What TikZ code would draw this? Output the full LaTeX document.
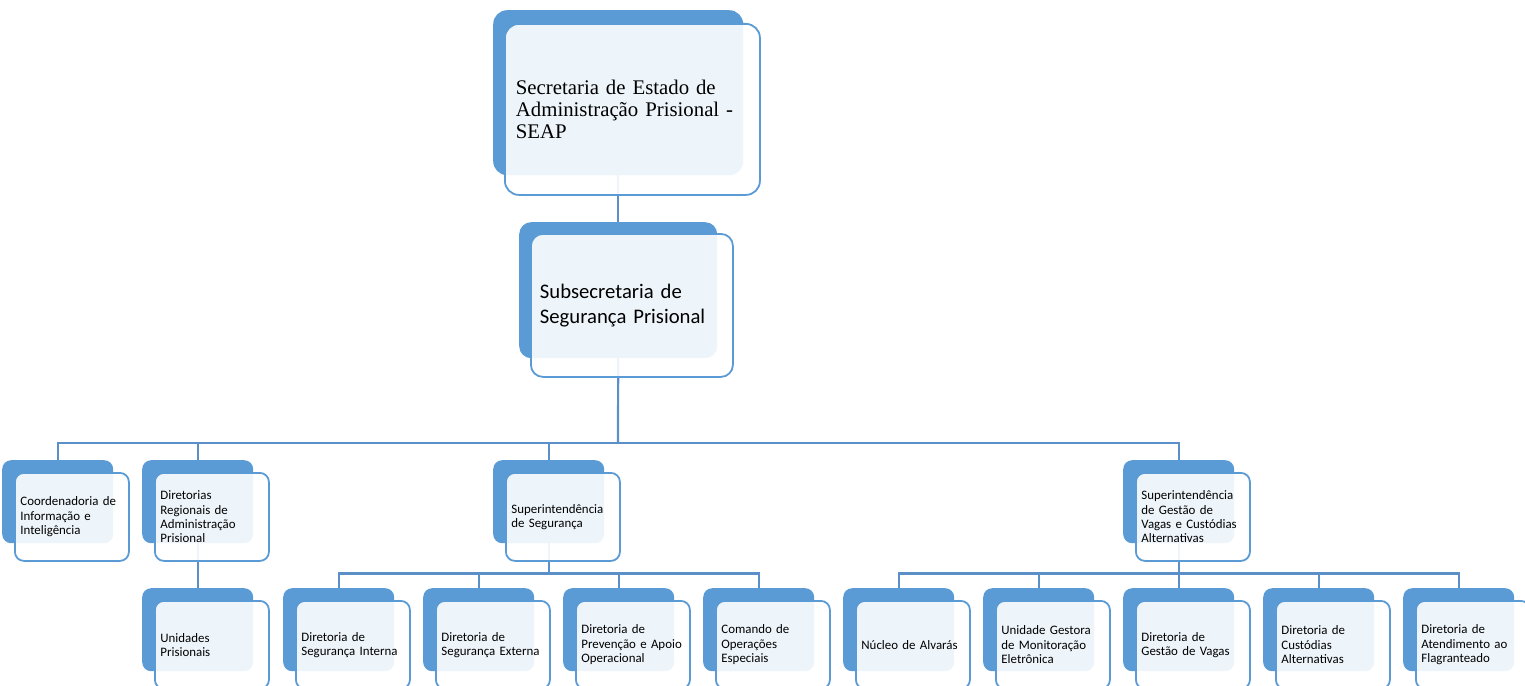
\documentclass[tikz,border=0pt]{standalone}
\usepackage{fontspec}
\setmainfont{Carlito}
\newfontfamily\seapserif{Liberation Serif}
\definecolor{acc}{HTML}{5B9BD5}
\definecolor{connc}{HTML}{5A8FC8}
\pgfdeclarelayer{bg}
\pgfsetlayers{bg,main}
\newcommand{\smallunit}[4]{%
  \node[backbox, minimum width=111pt, minimum height=83pt] (#1) at (#2,#3) {};
  \node[frontbox, text width=103pt, inner xsep=5.5pt, minimum height=88pt] (#1f) at (#2+12,#3+12) {#4};
}
\begin{document}
\begin{tikzpicture}[x=1pt,y=-1pt,
  backbox/.style={draw=none, fill=acc, rounded corners=9pt, anchor=north west, inner sep=0pt},
  frontbox/.style={draw=acc, line width=1.8pt, fill=white, fill opacity=0.9, text opacity=1,
    rounded corners=9pt, anchor=north west, align=left, inner ysep=0pt,
    font=\fontsize{12.9}{14.4}\selectfont},
  connline/.style={draw=connc, line width=2.2pt}
]
\useasboundingbox (0,0) rectangle (1525,685);

% top
\node[backbox, rounded corners=14pt, minimum width=250pt, minimum height=165pt] (top) at (493,10) {};
\node[frontbox, rounded corners=14pt, text width=233pt, inner xsep=11pt, minimum height=171pt,
  font=\seapserif\fontsize{20.8}{22.2}\selectfont] (topf) at (504,23)
  {Secretaria de Estado de\\Administração Prisional -\\SEAP};

% second
\node[backbox, rounded corners=12pt, minimum width=198pt, minimum height=136pt] (sub) at (519,222) {};
\node[frontbox, rounded corners=12pt, text width=184pt, inner xsep=9pt, minimum height=143pt,
  font=\fontsize{20.7}{24.5}\selectfont] (subf) at (530,233)
  {Subsecretaria de\\Segurança Prisional};

% level 3
\smallunit{coord}{2}{460}{Coordenadoria de\\Informação e\\Inteligência}
\smallunit{dreg}{142}{460}{Diretorias\\Regionais de\\Administração\\Prisional}
\smallunit{sseg}{493}{460}{Superintendência\\de Segurança}
\smallunit{gest}{1123}{460}{Superintendência\\de Gestão de\\Vagas e Custódias\\Alternativas}

% level 4
\smallunit{unid}{142}{588}{Unidades\\Prisionais}
\smallunit{dsi}{283}{588}{Diretoria de\\Segurança Interna}
\smallunit{dse}{423}{588}{Diretoria de\\Segurança Externa}
\smallunit{dpa}{563}{588}{Diretoria de\\Prevenção e Apoio\\Operacional}
\smallunit{coe}{703}{588}{Comando de\\Operações\\Especiais}
\smallunit{nal}{843}{588}{Núcleo de Alvarás}
\smallunit{ugm}{983}{588}{Unidade Gestora\\de Monitoração\\Eletrônica}
\smallunit{dgv}{1123}{588}{Diretoria de\\Gestão de Vagas}
\smallunit{dca}{1263}{588}{Diretoria de\\Custódias\\Alternativas}
\smallunit{daf}{1403}{588}{Diretoria de\\Atendimento ao\\Flagranteado}

\begin{pgfonlayer}{bg}
\coordinate (busA) at (618,443);
\coordinate (busB) at ([yshift=-30pt]sseg.south);
\coordinate (busC) at ([yshift=-30pt]gest.south);
\draw[connline] (top.south) -- (sub.north);
\draw[connline] (sub.south) -- (busA);
\draw[connline] (coord.north) |- (busA) -| (gest.north);
\draw[connline] (dreg.north) -- (dreg.north |- busA);
\draw[connline] (sseg.north) -- (sseg.north |- busA);
\draw[connline] (dreg.south) -- (unid.north);
\draw[connline] (sseg.south) -- (busB);
\draw[connline] (dsi.north) |- (busB) -| (coe.north);
\draw[connline] (dse.north) -- (dse.north |- busB);
\draw[connline] (dpa.north) -- (dpa.north |- busB);
\draw[connline] (gest.south) -- (busC);
\draw[connline] (nal.north) |- (busC) -| (daf.north);
\draw[connline] (ugm.north) -- (ugm.north |- busC);
\draw[connline] (dgv.north) -- (dgv.north |- busC);
\draw[connline] (dca.north) -- (dca.north |- busC);
\end{pgfonlayer}
\end{tikzpicture}
\end{document}
